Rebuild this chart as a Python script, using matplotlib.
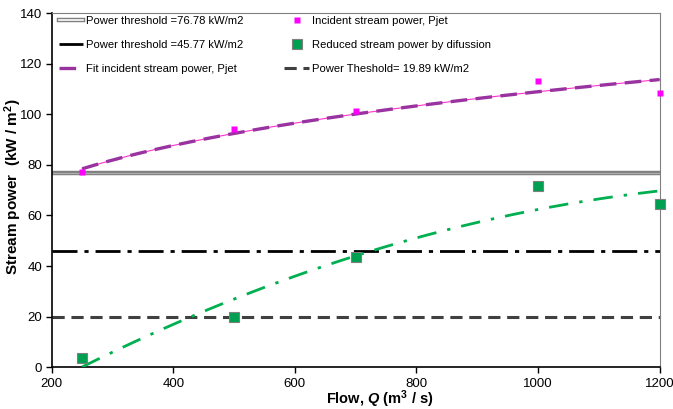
import numpy as np
import matplotlib.pyplot as plt

plt.rcParams['font.family'] = ['Liberation Sans', 'DejaVu Sans']
plt.rcParams['mathtext.fontset'] = 'custom'
plt.rcParams['mathtext.rm'] = 'Liberation Sans:bold'
plt.rcParams['mathtext.it'] = 'Liberation Sans:bold:italic'

# Measured flows and stream power
flow = [250, 500, 700, 1000, 1200]
p_jet = [77.0, 94.1, 101.4, 113.0, 108.3]
p_reduced = [3.8, 19.8, 43.5, 71.6, 64.6]

# Power thresholds (kW/m2)
thr_high = 76.78
thr_mid = 45.77
thr_low = 19.89

x_ticks = [200, 400, 600, 800, 1000, 1200]
y_ticks = [0, 20, 40, 60, 80, 100, 120, 140]

# Trend lines: power fit for the incident jet, 2nd order poly for the reduced power
b, ln_a = np.polyfit(np.log(flow), np.log(p_jet), 1)
q_fit = np.linspace(flow[0], flow[-1], 200)
jet_fit = np.exp(ln_a) * q_fit ** b
poly = np.polyfit(flow, p_reduced, 2)
red_fit = np.polyval(poly, q_fit)

fig = plt.figure(figsize=(6.73, 4.09), dpi=100)
ax = fig.add_axes([0.077, 0.102, 0.903, 0.866])

xs = [x_ticks[0], x_ticks[-1]]
ax.plot(xs, [thr_high] * 2, color='#808080', lw=3.2, solid_capstyle='butt', zorder=2)
ax.plot(xs, [thr_high] * 2, color='#b0b0b0', lw=0.8, zorder=2)
ax.plot(xs, [thr_mid] * 2, color='black', lw=2, dashes=(9, 2.5, 1.5, 2.5), zorder=2)
ax.plot(xs, [thr_low] * 2, color='#404040', lw=2.2, dashes=(4, 2.2), zorder=2)

ax.plot(q_fit, jet_fit, color='#ff33cc', lw=0.8, zorder=3)
ax.plot(q_fit, jet_fit, color='#9933a0', lw=2.4, dashes=(5, 2.5), zorder=3)
ax.plot(q_fit, red_fit, color='#00b050', lw=2, dashes=(7, 4, 1.2, 4), zorder=3)

ax.plot(flow, p_jet, 's', color='#ff00ff', ms=5, mec='none', zorder=4, clip_on=False)
ax.plot(flow, p_reduced, 's', color='#00a050', ms=7, mec='#7f7f7f', mew=0.8, zorder=4, clip_on=False)

# Legend built from proxy handles
h1a, = ax.plot([], [], color='#808080', lw=3.2)
h1b, = ax.plot([], [], color='white', lw=1.2)
h2, = ax.plot([], [], color='black', lw=2, dashes=(9, 2.5, 1.5, 2.5))
h3, = ax.plot([], [], color='#9933a0', lw=2.4, dashes=(5, 2.5))
h4, = ax.plot([], [], 's', color='#ff00ff', ms=5, mec='none')
h5, = ax.plot([], [], 's', color='#00a050', ms=7, mec='#7f7f7f', mew=0.8)
h6, = ax.plot([], [], color='#404040', lw=2.2, dashes=(4, 2.2))
labels = ['Power threshold =76.78 kW/m2', 'Power threshold =45.77 kW/m2',
          'Fit incident stream power, Pjet', 'Incident stream power, Pjet',
          'Reduced stream power by difussion', 'Power Theshold= 19.89 kW/m2']
ax.legend([(h1a, h1b), h2, h3, h4, h5, h6], labels, ncol=2, frameon=False,
          loc='upper left', bbox_to_anchor=(0.0, 1.012), fontsize=8.1,
          handlelength=2.2, handletextpad=0.25, columnspacing=3.6,
          labelspacing=1.25, borderaxespad=0.2)

ax.set_xlim(x_ticks[0], x_ticks[-1])
ax.set_ylim(y_ticks[0], y_ticks[-1])
ax.set_xticks(x_ticks)
ax.set_yticks(y_ticks)
ax.tick_params(direction='out', length=4, width=1, labelsize=9.5)
ax.tick_params(axis='y', pad=3)
for side in ['top', 'right']:
    ax.spines[side].set_color('#808080')
for side in ['left', 'bottom']:
    ax.spines[side].set_color('black')
    ax.spines[side].set_linewidth(1.2)

ax.set_xlabel(r'Flow, $Q$ (m$^{3}$ / s)', fontsize=10.5, fontweight='bold')
ax.set_ylabel(r'Stream power  (kW / m$^{2}$)', fontsize=11, fontweight='bold')
ax.xaxis.set_label_coords(0.54, -0.059)
ax.yaxis.set_label_coords(-0.046, 0.51)

fig.savefig('out.png', dpi=100)
